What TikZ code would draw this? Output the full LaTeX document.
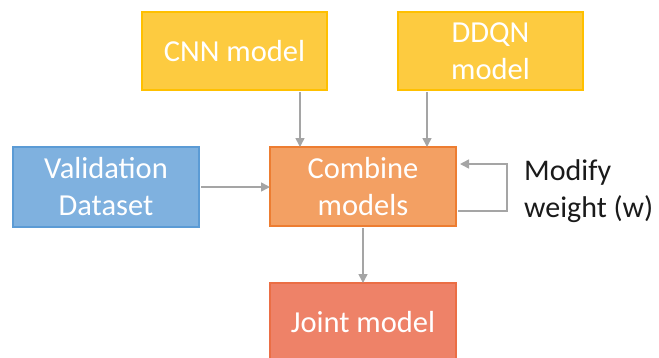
\documentclass[tikz,border=0pt]{standalone}
\usepackage{fontspec}
\setmainfont{Carlito}
\usetikzlibrary{arrows.meta}
\definecolor{yfill}{HTML}{FDCB40}
\definecolor{ydraw}{HTML}{FFC000}
\definecolor{bfill}{HTML}{7FB1DF}
\definecolor{bdraw}{HTML}{5B9BD5}
\definecolor{ofill}{HTML}{F3A063}
\definecolor{odraw}{HTML}{ED7D31}
\definecolor{rfill}{HTML}{EE8268}
\definecolor{rdraw}{HTML}{EB6E45}
\definecolor{agray}{HTML}{A5A5A5}
\definecolor{tdark}{HTML}{1A1A1A}
\begin{document}
\begin{tikzpicture}[x=1pt,y=-1pt,
  box/.style={draw, line width=1.2pt, minimum width=185pt, text=white, align=center,
    font=\fontsize{30.5}{37}\selectfont, inner sep=0pt, outer sep=0pt},
  conn/.style={draw=agray, line width=1.6pt, -{Triangle[length=9pt,width=9pt]}}]
\useasboundingbox (0,0) rectangle (659,357);
\node[box, fill=yfill, draw=ydraw, minimum height=78pt] (cnn) at (234.5,51) {CNN model};
\node[box, fill=yfill, draw=ydraw, minimum height=78pt] (ddqn) at (490.5,51) {DDQN\\model};
\node[box, fill=bfill, draw=bdraw, minimum width=186pt, minimum height=80pt] (val) at (106,187) {Validation\\Dataset};
\node[box, fill=ofill, draw=odraw, minimum width=186pt, minimum height=79pt] (comb) at (363,186.5) {Combine\\models};
\node[box, fill=rfill, draw=rdraw, minimum width=186pt, minimum height=78pt] (joint) at (363,322) {};
\node[text=white, font=\fontsize{30.5}{37}\selectfont, inner sep=0pt] (jointlbl) at (363,322) {Joint model};
\node[anchor=west, align=left, text=tdark, font=\fontsize{30}{37}\selectfont, inner sep=0pt] (mod) at (524,191) {Modify\\weight (w)};
\draw[conn] ([xshift=65.5pt,yshift=-2pt]cnn.south) -- ([xshift=65.5pt]cnn.south |- comb.north);
\draw[conn] ([xshift=-63.5pt,yshift=-2pt]ddqn.south) -- ([xshift=-63.5pt]ddqn.south |- comb.north);
\draw[conn] ([xshift=2pt]val.east) -- (val.east -| comb.west);
\draw[conn] ([yshift=-2pt]comb.south) -- (joint.north);
\draw[conn] ([xshift=2pt,yshift=-24.5pt]comb.east) -- ++(49,0) |- ([xshift=4pt,yshift=22.5pt]comb.east);
\end{tikzpicture}
\end{document}
